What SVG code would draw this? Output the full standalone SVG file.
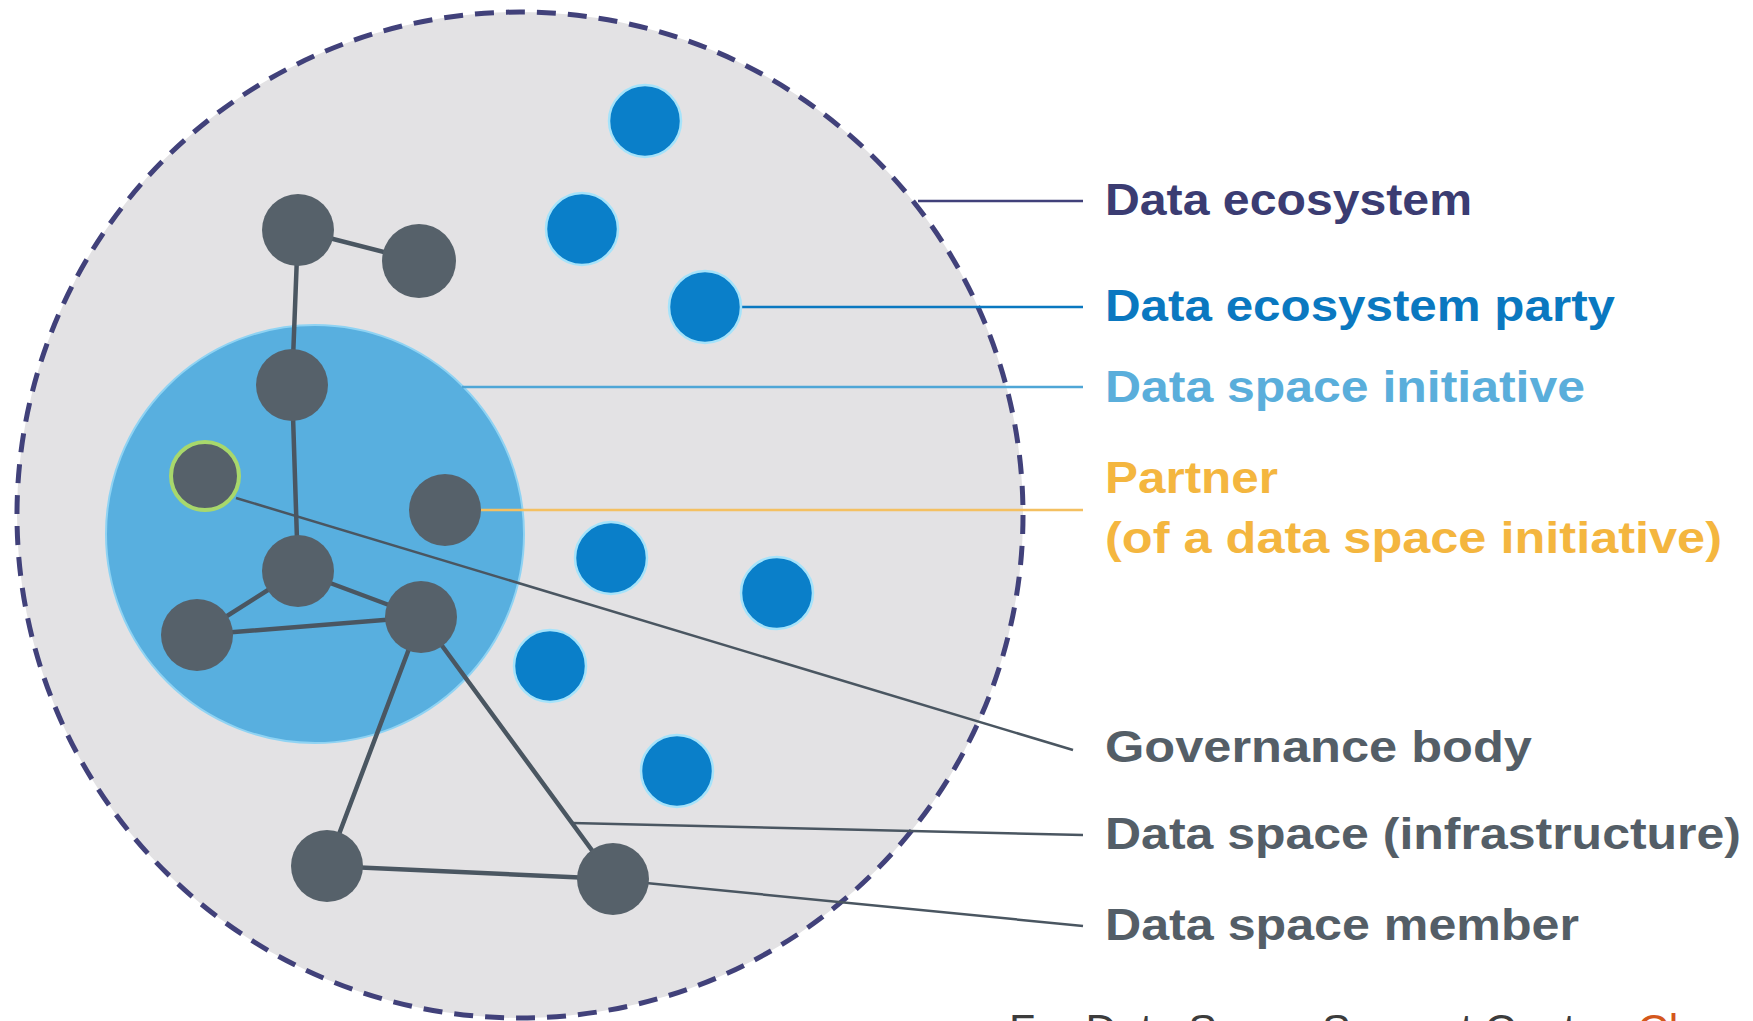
<svg xmlns="http://www.w3.org/2000/svg" width="1753" height="1021" viewBox="0 0 1753 1021">
<style>
.lbl{font-family:"Liberation Sans",Arial,sans-serif;font-weight:bold;font-size:44px}
.member{fill:#56616a}
.party{fill:#0a7fc9;stroke:#a6e3fa;stroke-width:2.5}
.edge{stroke:#4a5661;stroke-width:4.5;fill:none;stroke-linecap:round}
.lead{fill:none;stroke-width:2.5}
</style>
<rect width="1753" height="1021" fill="#ffffff"/>
<g id="ecosystem">
<circle cx="520" cy="515" r="503" fill="#e3e2e4" stroke="#41417a" stroke-width="5" stroke-dasharray="19 12"/>
</g>
<g id="initiative">
<circle cx="315" cy="534" r="209" fill="#58afdf" stroke="#8fd3f3" stroke-width="2"/>
</g>
<g id="connectors">
<line class="edge" x1="298" y1="230" x2="419" y2="261"/>
<line class="edge" x1="298" y1="230" x2="292" y2="385"/>
<line class="edge" x1="292" y1="385" x2="298" y2="571"/>
<line class="edge" x1="298" y1="571" x2="197" y2="635"/>
<line class="edge" x1="298" y1="571" x2="421" y2="617"/>
<line class="edge" x1="197" y1="635" x2="421" y2="617"/>
<line class="edge" x1="421" y1="617" x2="327" y2="866"/>
<line class="edge" x1="421" y1="617" x2="613" y2="879"/>
<line class="edge" x1="327" y1="866" x2="613" y2="879"/>
<line class="lead" stroke="#41417a" x1="918" y1="201" x2="1083" y2="201"/>
<line class="lead" stroke="#0a78c0" stroke-width="3" x1="735" y1="307" x2="1083" y2="307"/>
<line class="lead" stroke="#4fa6d6" stroke-width="2" x1="462" y1="387" x2="1083" y2="387"/>
<line class="lead" stroke="#f4c061" stroke-width="4" x1="478" y1="510" x2="1083" y2="510"/>
<line class="lead" stroke="#4a5661" x1="236" y1="498" x2="1073" y2="750"/>
<line class="lead" stroke="#4a5661" x1="572" y1="823" x2="1083" y2="835"/>
<line class="lead" stroke="#4a5661" x1="646" y1="883" x2="1083" y2="926"/>
</g>
<g id="node-A"><circle class="member" cx="298" cy="230" r="36"/></g>
<g id="node-B"><circle class="member" cx="419" cy="261" r="37"/></g>
<g id="node-C"><circle class="member" cx="292" cy="385" r="36"/></g>
<g id="node-D-governance"><circle class="member" cx="205" cy="476" r="34" stroke="#a8d86c" stroke-width="4"/></g>
<g id="node-E-partner"><circle class="member" cx="445" cy="510" r="36"/></g>
<g id="node-F"><circle class="member" cx="298" cy="571" r="36"/></g>
<g id="node-G"><circle class="member" cx="197" cy="635" r="36"/></g>
<g id="node-H"><circle class="member" cx="421" cy="617" r="36"/></g>
<g id="node-I"><circle class="member" cx="327" cy="866" r="36"/></g>
<g id="node-J"><circle class="member" cx="613" cy="879" r="36"/></g>
<g id="party-1"><circle class="party" cx="645" cy="121" r="36"/></g>
<g id="party-2"><circle class="party" cx="582" cy="229" r="36"/></g>
<g id="party-3"><circle class="party" cx="705" cy="307" r="36"/></g>
<g id="party-4"><circle class="party" cx="611" cy="558" r="36"/></g>
<g id="party-5"><circle class="party" cx="777" cy="593" r="36"/></g>
<g id="party-6"><circle class="party" cx="550" cy="666" r="36"/></g>
<g id="party-7"><circle class="party" cx="677" cy="771" r="36"/></g>
<g id="labels">
<text class="lbl" x="1105" y="215" fill="#3b3c72" textLength="367" lengthAdjust="spacingAndGlyphs">Data ecosystem</text>
<text class="lbl" x="1105" y="321" fill="#0a78c0" textLength="510" lengthAdjust="spacingAndGlyphs">Data ecosystem party</text>
<text class="lbl" x="1105" y="402" fill="#5aaedb" textLength="480" lengthAdjust="spacingAndGlyphs">Data space initiative</text>
<text class="lbl" x="1105" y="493" fill="#f4b63f" textLength="173" lengthAdjust="spacingAndGlyphs">Partner</text>
<text class="lbl" x="1105" y="553" fill="#f4b63f" textLength="617" lengthAdjust="spacingAndGlyphs">(of a data space initiative)</text>
<text class="lbl" x="1105" y="762" fill="#545e67" textLength="427" lengthAdjust="spacingAndGlyphs">Governance body</text>
<text class="lbl" x="1105" y="849" fill="#545e67" textLength="636" lengthAdjust="spacingAndGlyphs">Data space (infrastructure)</text>
<text class="lbl" x="1105" y="940" fill="#545e67" textLength="474" lengthAdjust="spacingAndGlyphs">Data space member</text>
<text x="1009" y="1044" font-family="'Liberation Sans',Arial,sans-serif" font-size="43" fill="#3c3c3c">For Data Space Support Centre: <tspan fill="#d4571c">Cl</tspan></text>
</g>
</svg>
